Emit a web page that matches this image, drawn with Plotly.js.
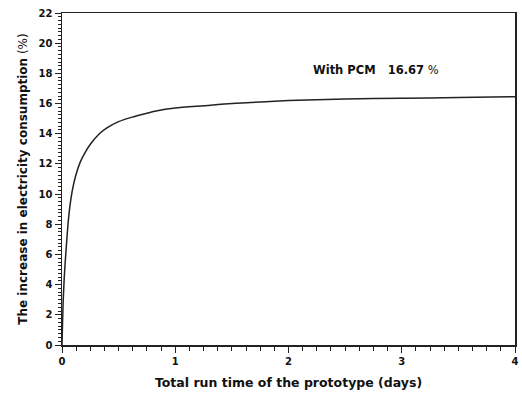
<!DOCTYPE html>
<html>
<head>
<meta charset="utf-8">
<script src="https://cdn.plot.ly/plotly-3.0.1.min.js"></script>
<style>html,body{margin:0;padding:0;background:#fff;}#chart{width:522px;height:401px;}</style>
</head>
<body>
<div id="chart"></div>
<script>
var timeDays = [0, 0.005, 0.01, 0.02, 0.033, 0.053, 0.07, 0.09, 0.12, 0.16, 0.2, 0.25, 0.33, 0.4, 0.5, 0.62, 0.75, 0.83, 1.0, 1.25, 1.5, 2.0, 2.5, 3.0, 3.5, 4.0];
var increasePct = [0, 1.5, 2.8, 4.5, 6.0, 8.0, 9.2, 10.2, 11.2, 12.1, 12.7, 13.3, 14.0, 14.4, 14.8, 15.1, 15.35, 15.5, 15.7, 15.85, 16.0, 16.2, 16.3, 16.35, 16.4, 16.45];
var xTickVals = [0, 1, 2, 3, 4];
var yTickVals = [0, 2, 4, 6, 8, 10, 12, 14, 16, 18, 20, 22];
var annotationText = "<b>With PCM   16.67</b> %";

var fontFam = "'DejaVu Sans', sans-serif";
var trace = {
  x: timeDays, y: increasePct, type: 'scatter', mode: 'lines',
  line: {color: '#222', width: 1.5, shape: 'spline', smoothing: 0.6},
  hoverinfo: 'skip'
};
var layout = {
  width: 522, height: 401,
  margin: {l: 62, r: 7, t: 13, b: 56},
  paper_bgcolor: '#fff', plot_bgcolor: '#fff',
  showlegend: false,
  font: {family: fontFam, color: '#111'},
  xaxis: {
    range: [0, 4], tickvals: xTickVals, ticktext: xTickVals.map(function(v){return '<b>'+v+'</b>';}),
    ticks: 'outside', ticklen: 6, tickwidth: 1, tickcolor: '#222',
    minor: {dtick: 0.125, ticks: 'outside', ticklen: 4, tickcolor: '#222'},
    showgrid: false, zeroline: false, showline: true, linecolor: '#222', linewidth: 1.5, mirror: true,
    tickfont: {size: 10, family: fontFam},
    title: {text: '<b>Total run time of the prototype (days)</b>', font: {size: 12.5, family: fontFam}, standoff: 12}
  },
  yaxis: {
    range: [0, 22], tickvals: yTickVals, ticktext: yTickVals.map(function(v){return '<b>'+v+'</b>';}),
    ticks: 'outside', ticklen: 6, tickwidth: 1, tickcolor: '#222',
    minor: {dtick: 0.25, ticks: 'outside', ticklen: 3, tickcolor: '#222'},
    showgrid: false, zeroline: false, showline: true, linecolor: '#222', linewidth: 1.5, mirror: true,
    tickfont: {size: 10, family: fontFam},
    title: {text: '<b>The increase in electricity consumption</b> (%)', font: {size: 12, family: fontFam}, standoff: 8}
  },
  annotations: [{
    x: 2.77, y: 18.2, xref: 'x', yref: 'y', text: annotationText, showarrow: false,
    font: {size: 11.5, family: fontFam, color: '#111'}
  }]
};
Plotly.newPlot('chart', [trace], layout, {displayModeBar: false, staticPlot: true});
</script>
</body>
</html>
